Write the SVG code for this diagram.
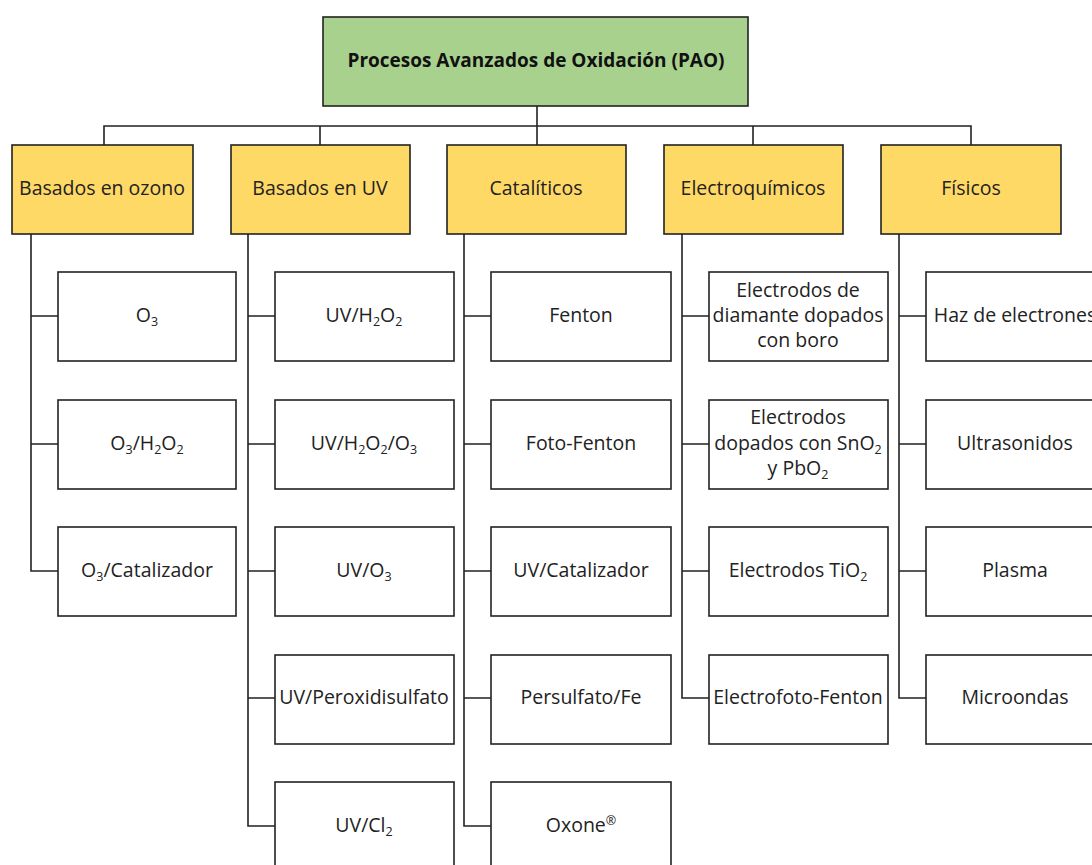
<svg xmlns="http://www.w3.org/2000/svg" width="1092" height="865" viewBox="0 0 1092 865">
<style>
.root{fill:#a9d18e;stroke:#222;stroke-width:1.6}
.cat{fill:#ffd966;stroke:#222;stroke-width:1.6}
.leaf{fill:#fff;stroke:#222;stroke-width:1.6}
.t{font-family:"Open Sans","Liberation Sans",sans-serif;font-size:19.5px;fill:#222;text-anchor:middle}
.tb{font-family:"Open Sans","Liberation Sans",sans-serif;font-size:19px;font-weight:bold;fill:#111;text-anchor:middle}
.c{fill:none;stroke:#222;stroke-width:1.6}
.s{font-size:12.5px}
</style>
<rect width="1092" height="865" fill="#fff"/>
<g id="connectors">
<path class="c" d="M537 106V126M104 145V126H971V145M320 126V145M537 126V145M753 126V145"/>
<path class="c" d="M31 234V571H58M31 316H58M31 444H58"/>
<path class="c" d="M248 234V826H275M248 316H275M248 444H275M248 571H275M248 698H275"/>
<path class="c" d="M464 234V826H491M464 316H491M464 444H491M464 571H491M464 698H491"/>
<path class="c" d="M682 234V698H709M682 316H709M682 444H709M682 571H709"/>
<path class="c" d="M899 234V698H926M899 316H926M899 444H926M899 571H926"/>
</g>
<g id="root"><rect class="root" x="323" y="17" width="425" height="89"/><text class="tb" x="536" y="67">Procesos Avanzados de Oxidación (PAO)</text></g>
<g id="cat-ozono"><rect class="cat" x="12" y="145" width="181" height="89"/><text class="t" x="102" y="195">Basados en ozono</text></g>
<g id="cat-uv"><rect class="cat" x="231" y="145" width="179" height="89"/><text class="t" x="320" y="195">Basados en UV</text></g>
<g id="cat-cat"><rect class="cat" x="447" y="145" width="179" height="89"/><text class="t" x="536" y="195">Catalíticos</text></g>
<g id="cat-electro"><rect class="cat" x="664" y="145" width="179" height="89"/><text class="t" x="753" y="195">Electroquímicos</text></g>
<g id="cat-fisicos"><rect class="cat" x="881" y="145" width="180" height="89"/><text class="t" x="971" y="195">Físicos</text></g>

<g id="o3"><rect class="leaf" x="58" y="272" width="178" height="89"/><text class="t" x="147" y="322">O<tspan class="s" dy="4">3</tspan></text></g>
<g id="o3h2o2"><rect class="leaf" x="58" y="400" width="178" height="89"/><text class="t" x="147" y="450">O<tspan class="s" dy="4">3</tspan><tspan dy="-4">/H</tspan><tspan class="s" dy="4">2</tspan><tspan dy="-4">O</tspan><tspan class="s" dy="4">2</tspan></text></g>
<g id="o3cat"><rect class="leaf" x="58" y="527" width="178" height="89"/><text class="t" x="147" y="577">O<tspan class="s" dy="4">3</tspan><tspan dy="-4">/Catalizador</tspan></text></g>

<g id="uvh2o2"><rect class="leaf" x="275" y="272" width="179" height="89"/><text class="t" x="364" y="322">UV/H<tspan class="s" dy="4">2</tspan><tspan dy="-4">O</tspan><tspan class="s" dy="4">2</tspan></text></g>
<g id="uvh2o2o3"><rect class="leaf" x="275" y="400" width="179" height="89"/><text class="t" x="364" y="450">UV/H<tspan class="s" dy="4">2</tspan><tspan dy="-4">O</tspan><tspan class="s" dy="4">2</tspan><tspan dy="-4">/O</tspan><tspan class="s" dy="4">3</tspan></text></g>
<g id="uvo3"><rect class="leaf" x="275" y="527" width="179" height="89"/><text class="t" x="364" y="577">UV/O<tspan class="s" dy="4">3</tspan></text></g>
<g id="uvperox"><rect class="leaf" x="275" y="655" width="179" height="89"/><text class="t" x="364" y="704">UV/Peroxidisulfato</text></g>
<g id="uvcl2"><rect class="leaf" x="275" y="782" width="179" height="89"/><text class="t" x="364" y="832">UV/Cl<tspan class="s" dy="4">2</tspan></text></g>

<g id="fenton"><rect class="leaf" x="491" y="272" width="180" height="89"/><text class="t" x="581" y="322">Fenton</text></g>
<g id="fotofenton"><rect class="leaf" x="491" y="400" width="180" height="89"/><text class="t" x="581" y="450">Foto-Fenton</text></g>
<g id="uvcat"><rect class="leaf" x="491" y="527" width="180" height="89"/><text class="t" x="581" y="577">UV/Catalizador</text></g>
<g id="persulfato"><rect class="leaf" x="491" y="655" width="180" height="89"/><text class="t" x="581" y="704">Persulfato/Fe</text></g>
<g id="oxone"><rect class="leaf" x="491" y="782" width="180" height="89"/><text class="t" x="581" y="832">Oxone<tspan class="s" dy="-7">®</tspan></text></g>

<g id="bdd"><rect class="leaf" x="709" y="272" width="179" height="89"/><text class="t" x="798" y="297">Electrodos de</text><text class="t" x="798" y="322">diamante dopados</text><text class="t" x="798" y="347">con boro</text></g>
<g id="snpb"><rect class="leaf" x="709" y="400" width="179" height="89"/><text class="t" x="798" y="424">Electrodos</text><text class="t" x="798" y="450">dopados con SnO<tspan class="s" dy="4">2</tspan></text><text class="t" x="798" y="475">y PbO<tspan class="s" dy="4">2</tspan></text></g>
<g id="tio2"><rect class="leaf" x="709" y="527" width="179" height="89"/><text class="t" x="798" y="577">Electrodos TiO<tspan class="s" dy="4">2</tspan></text></g>
<g id="electrofoto"><rect class="leaf" x="709" y="655" width="179" height="89"/><text class="t" x="798" y="704">Electrofoto-Fenton</text></g>

<g id="haz"><rect class="leaf" x="926" y="272" width="179" height="89"/><text class="t" x="1015" y="322">Haz de electrones</text></g>
<g id="ultra"><rect class="leaf" x="926" y="400" width="179" height="89"/><text class="t" x="1015" y="450">Ultrasonidos</text></g>
<g id="plasma"><rect class="leaf" x="926" y="527" width="179" height="89"/><text class="t" x="1015" y="577">Plasma</text></g>
<g id="micro"><rect class="leaf" x="926" y="655" width="179" height="89"/><text class="t" x="1015" y="704">Microondas</text></g>
</svg>
